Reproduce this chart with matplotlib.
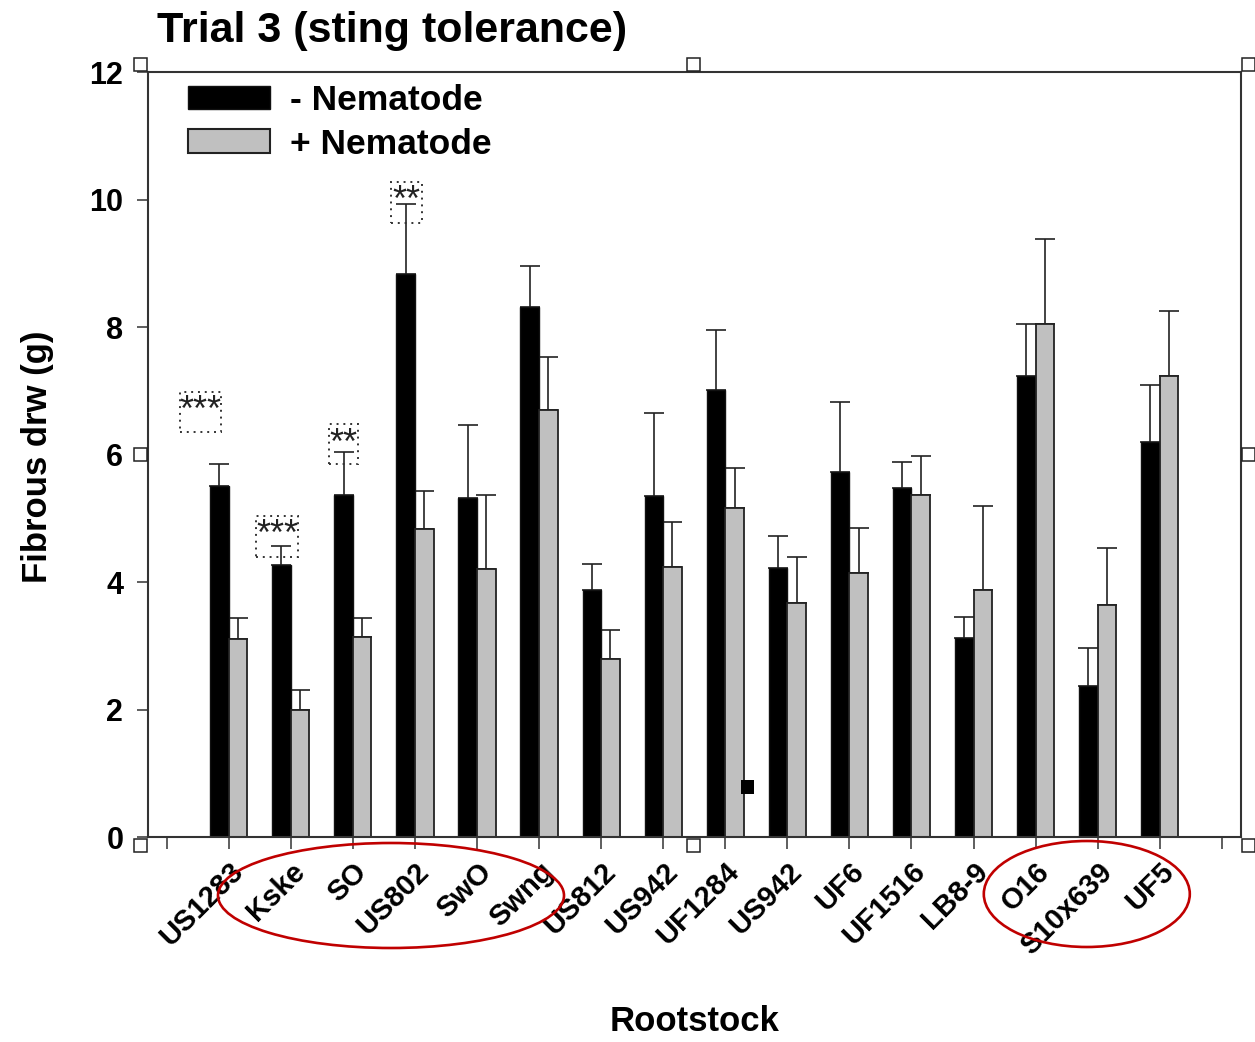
import numpy as np
import matplotlib
matplotlib.use("Agg")
import matplotlib.pyplot as plt
from matplotlib.patches import Rectangle, Ellipse, Patch

plt.rcParams['font.family'] = ['Liberation Sans', 'DejaVu Sans']
plt.rcParams['font.weight'] = 'bold'
plt.rcParams['axes.labelweight'] = 'bold'

# rootstocks and fibrous root dry weight (g)
rootstocks = ["US1283", "Kske", "SO", "US802", "SwO", "Swng", "US812", "US942",
              "UF1284", "US942", "UF6", "UF1516", "LB8-9", "O16", "S10x639", "UF5"]
minus_nem = [5.51, 4.27, 5.37, 8.84, 5.32, 8.32, 3.88, 5.35,
             7.02, 4.22, 5.73, 5.48, 3.12, 7.24, 2.37, 6.20]
minus_err = [0.35, 0.30, 0.67, 1.09, 1.15, 0.64, 0.41, 1.31,
             0.94, 0.51, 1.10, 0.41, 0.33, 0.81, 0.60, 0.90]
plus_nem = [3.11, 2.00, 3.14, 4.84, 4.21, 6.70, 2.79, 4.24,
            5.17, 3.68, 4.15, 5.37, 3.88, 8.05, 3.64, 7.24]
plus_err = [0.33, 0.31, 0.30, 0.59, 1.16, 0.84, 0.46, 0.71,
            0.62, 0.72, 0.70, 0.61, 1.32, 1.33, 0.90, 1.02]

# significance marks (dotted boxes)
sig_text = ["***", "***", "**", "**"]
sig_x0 = [0.214, 1.434, 2.62, 3.61]
sig_x1 = [0.875, 2.12, 3.09, 4.11]
sig_y0 = [6.35, 4.40, 5.85, 9.63]
sig_y1 = [6.99, 5.04, 6.48, 10.28]

W, H = 1255, 1042
fig = plt.figure(figsize=(W / 100, H / 100), dpi=100)
ax = fig.add_axes([148.3 / W, (H - 837.3) / H, (1241 - 148.3) / W, (837.3 - 72.3) / H])

x = np.arange(1, len(rootstocks) + 1)
bw = 0.3
ax.bar(x - bw / 2, minus_nem, width=bw, color='black', edgecolor='#111111', lw=1.0, zorder=2)
ax.bar(x + bw / 2, plus_nem, width=bw, color='#c0c0c0', edgecolor='#222222', lw=1.3, zorder=2)
zeros = np.zeros(len(x))
ax.errorbar(x - bw / 2, minus_nem, yerr=[zeros, minus_err], fmt='none', ecolor='#222222',
            elinewidth=1.2, capsize=7.5, capthick=1.2, zorder=1)
ax.errorbar(x + bw / 2, plus_nem, yerr=[zeros, plus_err], fmt='none', ecolor='#222222',
            elinewidth=1.2, capsize=7.5, capthick=1.2, zorder=1)

for t, a, b, c, d in zip(sig_text, sig_x0, sig_x1, sig_y0, sig_y1):
    ax.add_patch(Rectangle((a, c), b - a, d - c, fill=False, edgecolor='#333333',
                           lw=1.4, linestyle=(0, (1, 2.5)), zorder=3))
    ax.text((a + b) / 2, d - 0.46, t, ha='center', va='baseline', fontsize=26,
            fontweight='normal', color='#222222', zorder=4)

ax.set_xlim(-0.296, 17.31)
ax.set_ylim(0, 12)
ax.set_yticks(np.arange(0, 13, 2))
ax.set_xticks(np.arange(0, 18))
ax.set_xticklabels([""] + rootstocks + [""], rotation=45, ha='right', va='top',
                   rotation_mode='anchor')
ax.tick_params(axis='y', direction='out', length=8, width=1.1, labelsize=22, pad=10, color='#333333')
ax.tick_params(axis='x', direction='out', length=8.6, width=1.1, labelsize=21, pad=6, color='#333333')
for s in ax.spines.values():
    s.set_color('#333333')
    s.set_linewidth(1.5)

ax.set_ylabel("Fibrous drw (g)", fontsize=25, va='center')
ax.yaxis.set_label_coords(-0.101, 0.497)
ax.set_xlabel("Rootstock", fontsize=25, va='center')
ax.xaxis.set_label_coords(0.5003, -0.2414)

handles = [Patch(facecolor='black', edgecolor='#111111', lw=1.0),
           Patch(facecolor='#c0c0c0', edgecolor='#222222', lw=1.5)]
fig.legend(handles, ["- Nematode", "+ Nematode"], loc='upper left',
           bbox_to_anchor=(188 / W, 1 - 84 / H), frameon=False, fontsize=25.5,
           handlelength=2.32, handleheight=0.65, handletextpad=0.56,
           labelspacing=0.3, borderpad=0, borderaxespad=0)

fig.text(157 / W, 1 - 42 / H, "Trial 3 (sting tolerance)", fontsize=31,
         ha='left', va='baseline')

# red ellipses around groups
for cx, cy, ew, eh in [(391, 895.5, 346, 105), (1086.8, 894, 206, 106)]:
    fig.add_artist(Ellipse((cx / W, 1 - cy / H), ew / W, eh / H, fill=False,
                           edgecolor='#c00000', lw=1.9, transform=fig.transFigure, zorder=5))

# selection handles round the chart object
for hx, hy in [(140, 64.5), (693, 64.5), (1248.5, 64.5), (140, 454.5), (1248.5, 454.5),
               (140, 845.5), (693, 845.5), (1248.5, 845.5)]:
    fig.add_artist(Rectangle(((hx - 6.5) / W, 1 - (hy + 6.5) / H), 13 / W, 13 / H,
                             facecolor='white', edgecolor='#222222', lw=1.1,
                             transform=fig.transFigure, zorder=6))
fig.add_artist(Rectangle((741 / W, 1 - 794 / H), 13 / W, 14 / H, facecolor='black',
                         edgecolor='none', transform=fig.transFigure, zorder=6))

fig.savefig("out.png", dpi=100)
